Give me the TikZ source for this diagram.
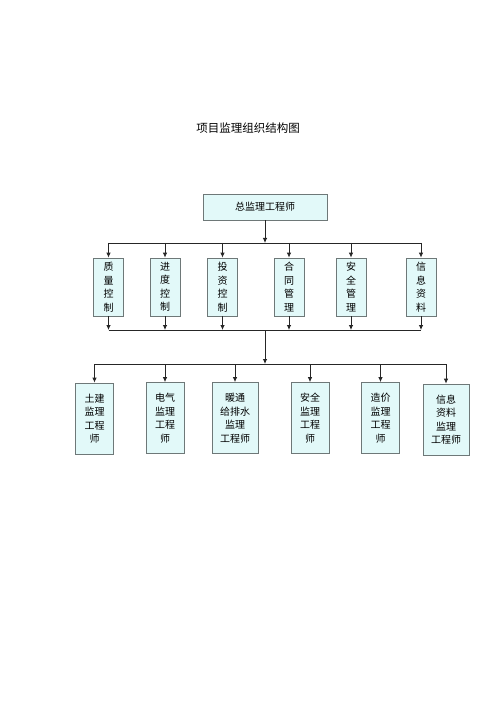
\documentclass[tikz,border=0pt]{standalone}
\usepackage{fontspec}
\newfontfamily\cjk{Noto Sans CJK SC}
\usepackage{tikz}
\usetikzlibrary{arrows.meta,shadows}
\definecolor{boxfill}{RGB}{226,249,249}
\definecolor{boxline}{RGB}{110,120,120}

\begin{document}
\begin{tikzpicture}[x=1pt,y=-1pt,
  box/.style={draw=boxline,fill=boxfill,line width=0.7pt,inner sep=2pt,align=center,
    font=\cjk\fontsize{10}{13.5}\selectfont,
    drop shadow={shadow xshift=0.9pt,shadow yshift=-0.9pt,opacity=0.7,fill=gray!60!black}},
  midbox/.style={box,minimum width=30pt,minimum height=58pt},
  lowbox/.style={box,minimum width=#1,minimum height=71pt},
  wire/.style={line width=0.8pt,black!85},
  arr/.style={wire,-{Latex[length=5pt,width=4.5pt]}}]
		%%%%% START %%%%%
		\useasboundingbox[fill=white] (0,0) rectangle (500,708);
		
		\node[font=\cjk\fontsize{11.5}{14}\selectfont] (title) at (248,128) {项目监理组织结构图};
		
		\node[box,minimum width=124pt,minimum height=26pt] (chief) at (265,207) {总监理工程师};
		
		\node[midbox] (m1) at (108.5,287) {质\\量\\控\\制};
		\node[midbox] (m2) at (165,287) {进\\度\\控\\制};
		\node[midbox] (m3) at (222.5,287) {投\\资\\控\\制};
		\node[midbox] (m4) at (289,287) {合\\同\\管\\理};
		\node[midbox] (m5) at (351,287) {安\\全\\管\\理};
		\node[midbox] (m6) at (421,287) {信\\息\\资\\料};
		
		\node[lowbox=38pt] (b1) at (94.5,418.5) {土建\\监理\\工程\\师};
		\node[lowbox=38pt] (b2) at (165,418) {电气\\监理\\工程\\师};
		\node[lowbox=46pt] (b3) at (235,418) {暖通\\给排水\\监理\\工程师};
		\node[lowbox=38pt] (b4) at (310,418) {安全\\监理\\工程\\师};
		\node[lowbox=38pt] (b5) at (380.5,418) {造价\\监理\\工程\\师};
		\node[lowbox=46pt] (b6) at (446,419.5) {信息\\资料\\监理\\工程师};
		
		\coordinate (bus1) at (265,243);
		\coordinate (bus2) at (265,330);
		\coordinate (bus3) at (265,364);
		
		\draw[arr] (chief) -- (bus1);
		\draw[wire] (m1 |- bus1) -- (m6 |- bus1);
		\foreach \i in {1,...,6}
		{
			\draw[arr] (m\i |- bus1) -- (m\i);
			\draw[arr] (m\i) -- (m\i |- bus2);
		}
		\draw[wire] (m1 |- bus2) -- (m6 |- bus2);
		\draw[arr] (bus2) -- (bus3);
		\draw[wire] (b1 |- bus3) -- (b6 |- bus3);
		\foreach \i in {1,...,6}
			\draw[arr] (b\i |- bus3) -- (b\i);
		%%%%% END %%%%%
\end{tikzpicture}
\end{document}
